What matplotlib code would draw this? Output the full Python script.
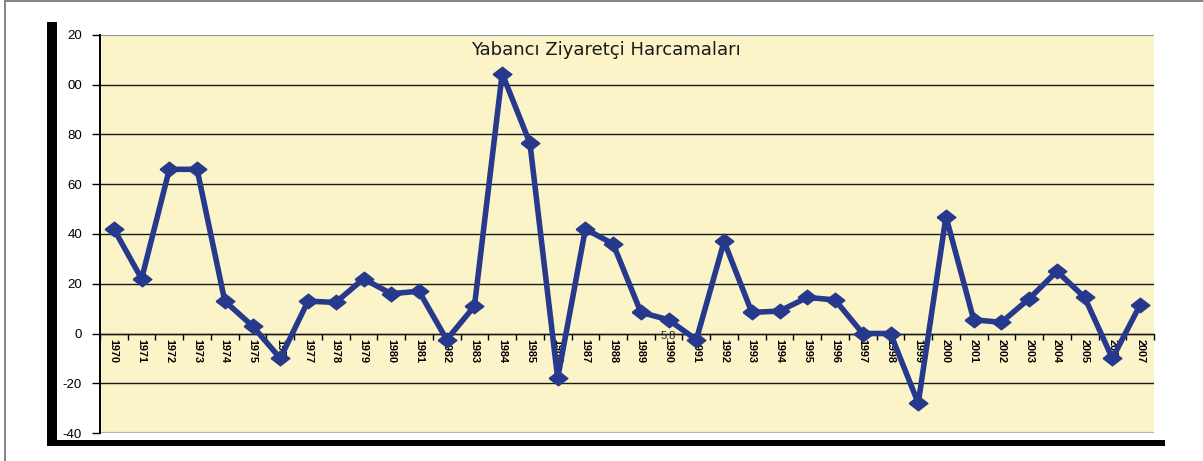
import matplotlib
matplotlib.use("Agg")
import matplotlib.pyplot as plt
from matplotlib.patches import Rectangle
from matplotlib.ticker import FixedLocator, NullFormatter

# ---- data ----
years = [str(y) for y in range(1970, 2008)]
values = [42, 22, 66, 66, 13, 3, -10, 13, 12.5, 22, 16, 17, -2.5, 11,
          104.5, 76.5, -18, 42, 36, 8.5, 5.5, -2.5, 37, 8.5, 9, 14.5,
          13.5, 0, 0, -28, 47, 5.5, 4.5, 14, 25, 14.5, -10, 11.5]
y_ticks = [-40, -20, 0, 20, 40, 60, 80, 100, 120]
y_tick_labels = ["-40", "-20", "0", "20", "40", "60", "80", "00", "20"]
title = "Yabancı Ziyaretçi Harcamaları"
stray_label = "5,8"

W, H = 1203, 461
fig = plt.figure(figsize=(W / 100, H / 100), dpi=100)
fig.patch.set_facecolor("white")

def fx(px):
    return px / W

def fy(py):
    return 1 - py / H

# outer frame (only left and top visible)
fig.add_artist(Rectangle((fx(5), fy(470)), fx(1250), 469 / H,
                         fill=False, edgecolor="#707070", linewidth=1.2,
                         transform=fig.transFigure))
# heavy black bars
fig.add_artist(Rectangle((fx(47), fy(446)), fx(10), (446 - 22) / H,
                         facecolor="black", edgecolor="none",
                         transform=fig.transFigure))
fig.add_artist(Rectangle((fx(47), fy(446)), fx(1165 - 47), 6 / H,
                         facecolor="black", edgecolor="none",
                         transform=fig.transFigure))

left, right, top, bottom = 100, 1154, 35, 433
ax = fig.add_axes([fx(left), fy(bottom), fx(right - left), (bottom - top) / H])
ax.set_facecolor("#FBF4C8")

x = list(range(len(years)))
ax.set_xlim(-0.5, len(years) - 0.5)
ax.set_ylim(-40, 120)

# gridlines
for v in y_ticks:
    if v in (-40, 120):
        continue
    ax.axhline(v, color="#1a1a1a", linewidth=1.0, zorder=1)
ax.axhline(120, color="#9a9a9a", linewidth=1.6, zorder=1)
ax.axhline(-40, color="#b5b5b5", linewidth=1.6, zorder=1)

diamond = [(-1, 0), (0, 0.78), (1, 0), (0, -0.78), (-1, 0)]
ax.plot(x, values, color="#27398C", linewidth=4.0, marker=diamond,
        markersize=13.5, markerfacecolor="#27398C", markeredgecolor="#27398C",
        zorder=4, solid_joinstyle="round")

# spines
for s in ("top", "right"):
    ax.spines[s].set_visible(False)
ax.spines["left"].set_color("black")
ax.spines["left"].set_linewidth(1.4)
ax.spines["bottom"].set_position(("data", 0))
ax.spines["bottom"].set_color("#1a1a1a")
ax.spines["bottom"].set_linewidth(1.0)

ax.set_yticks(y_ticks)
ax.set_yticklabels(y_tick_labels, fontsize=9.5, family="Liberation Sans")
ax.tick_params(axis="y", direction="out", length=6, width=1.0, pad=7,
               colors="black")

ax.set_xticks(x)
ax.set_xticklabels(years, rotation=270, fontsize=7.8, family="Liberation Sans",
                   fontweight="bold")
ax.tick_params(axis="x", which="major", length=0, pad=4)
ax.xaxis.set_minor_locator(FixedLocator([i - 0.5 for i in range(len(years) + 1)]))
ax.xaxis.set_minor_formatter(NullFormatter())
ax.tick_params(axis="x", which="minor", direction="out", length=4, width=1.0)
for lbl in ax.get_xticklabels():
    lbl.set_zorder(3)

ax.text(0.48, 0.985, title, transform=ax.transAxes, ha="center", va="top",
        fontsize=13, family="DejaVu Sans", color="#1a1a1a")
ax.text(20.0, -1.0, stray_label, ha="center", va="center", fontsize=8,
        family="Liberation Sans", color="#222222", zorder=5)

fig.savefig("out.png", dpi=100, facecolor="white")
